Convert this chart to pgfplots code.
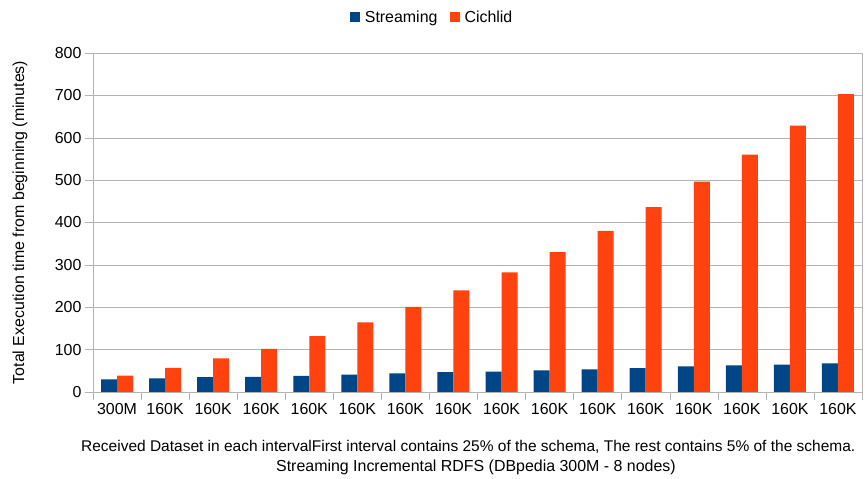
\documentclass[border=0pt]{standalone}
\usepackage{fontspec}
\setmainfont{Liberation Sans}
\usepackage{pgfplots}
\usepackage{pgfplotstable}
\pgfplotsset{compat=1.18}

\definecolor{streamblue}{HTML}{004586}
\definecolor{cichorange}{HTML}{FF420E}
\definecolor{gridgray}{HTML}{B3B3B3}

% total execution time (minutes) per interval
\pgfplotstableread{
idx streaming cichlid
0   30    38.5
1   32    57
2   35    79.5
3   35.5  102
4   38    132
5   41    164.5
6   44    201
7   47    240
8   48    282.5
9   51    330
10  53.5  380.5
11  56.5  436.5
12  60.5  496.5
13  63    560
14  64.5  628.5
15  67.5  703
}\timetable

\begin{document}
\begin{tikzpicture}
\begin{axis}[
  scale only axis,
  width=769bp, height=339bp,
  clip=false,
  ybar=0pt,
  bar width=16bp,
  xmin=-0.5, xmax=15.5,
  ymin=0, ymax=800,
  xtick={0,...,15},
  xticklabels={300M,160K,160K,160K,160K,160K,160K,160K,160K,160K,160K,160K,160K,160K,160K,160K},
  minor xtick={-0.5,0.5,...,15.5},
  ytick={0,100,...,800},
  xtick pos=bottom, ytick pos=left,
  tick align=outside,
  major tick length=8bp,
  minor tick length=8bp,
  major x tick style={draw=none},
  minor x tick style={draw=gridgray, thin},
  major y tick style={draw=gridgray, thin},
  ymajorgrids,
  grid style={gridgray, thin},
  axis line style={gridgray, thin},
  tick label style={font=\fontsize{16}{19}\selectfont, text=black},
  /pgf/number format/assume math mode=true,
  ylabel={Total Execution time from beginning (minutes)},
  every axis y label/.style={at={(axis description cs:-0.095,0.5)}, rotate=90, anchor=center, font=\fontsize{16}{19}\selectfont},
  legend style={draw=none, at={(0.441,1.106)}, anchor=center, legend columns=2,
    font=\fontsize{16}{19}\selectfont,
    /tikz/every even column/.append style={column sep=10bp}},
  legend image code/.code={\fill[#1] (0bp,-5bp) rectangle (10bp,5bp); \path (13bp,0bp);},
]
\addplot[fill=streamblue, draw=none] table[x=idx, y=streaming] {\timetable};
\addplot[fill=cichorange, draw=none] table[x=idx, y=cichlid] {\timetable};
\legend{Streaming, Cichlid}

\node[font=\fontsize{15.55}{18}\selectfont] at (axis description cs:0.488,-0.162)
  {Received Dataset in each intervalFirst interval contains 25\% of the schema, The rest contains 5\% of the schema.};
\node[font=\fontsize{16}{19}\selectfont] at (axis description cs:0.498,-0.221)
  {Streaming Incremental RDFS (DBpedia 300M - 8 nodes)};

\coordinate (bbsw) at (axis description cs:-0.1209,-0.2566);
\coordinate (bbne) at (axis description cs:1.0039,1.1563);
\end{axis}
\pgfresetboundingbox
\path[use as bounding box] (bbsw) rectangle (bbne);
\end{tikzpicture}
\end{document}
